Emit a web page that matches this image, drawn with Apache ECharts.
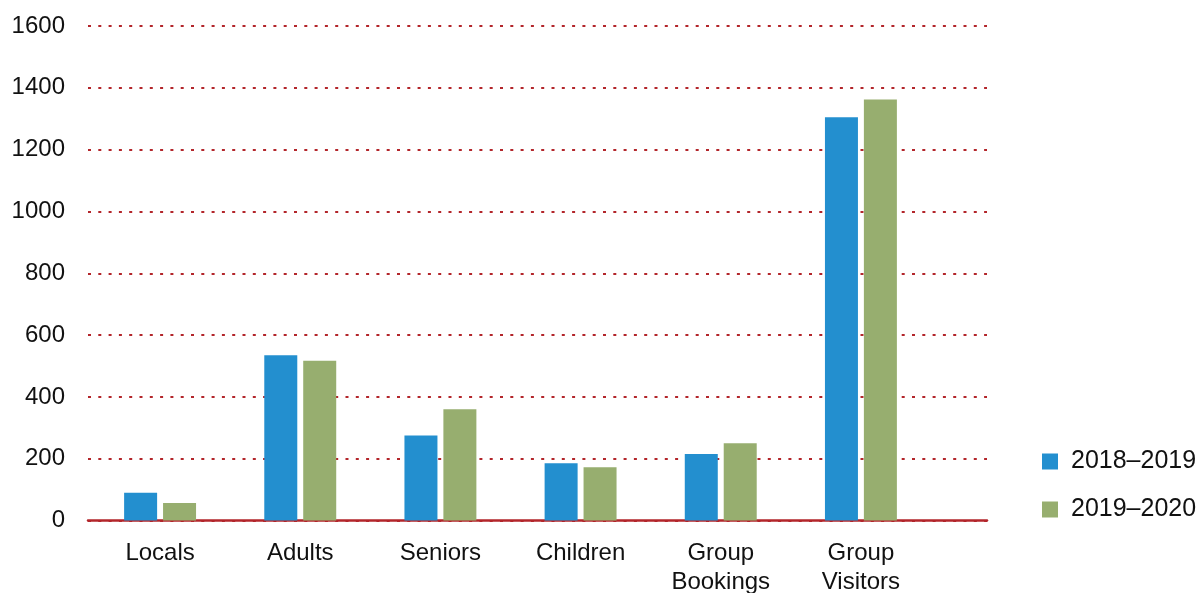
<!DOCTYPE html>
<html><head><meta charset="utf-8">
<script src="https://cdn.jsdelivr.net/npm/echarts@6/dist/echarts.min.js"></script>
<style>html,body{margin:0;padding:0;background:#fff}#c{width:1200px;height:593px}</style>
</head><body><div id="c"></div>
<script>
const categories = ['Locals', 'Adults', 'Seniors', 'Children', 'Group\nBookings', 'Group\nVisitors'];
const series2018 = [90, 535, 275, 185, 215, 1305];
const series2019 = [57, 517, 360, 172, 250, 1362];
const seriesNames = ['2018–2019', '2019–2020'];
const yTicks = { min: 0, max: 1600, interval: 200 };

const FONT = 'Liberation Sans';
const RED = '#b3262b';
const chart = echarts.init(document.getElementById('c'));
chart.setOption({
  animation: false,
  textStyle: { fontFamily: FONT },
  grid: [
    { left: 90, right: 269, top: 26, bottom: 72.5, outerBoundsMode: 'none', containLabel: false },
    { left: 88, right: 213, top: 26, bottom: 72.5, outerBoundsMode: 'none', containLabel: false }
  ],
  legend: {
    orient: 'vertical', left: 1037, top: 444,
    itemWidth: 16, itemHeight: 16, itemGap: 23,
    icon: 'rect',
    textStyle: { fontSize: 25, color: '#111', fontFamily: FONT, padding: [0, 0, 0, 8] },
    data: seriesNames
  },
  xAxis: [
    { gridIndex: 0, type: 'category', data: categories,
      axisLine: { show: false }, axisTick: { show: false },
      axisLabel: { fontSize: 24, color: '#111', margin: 18, lineHeight: 29, fontFamily: FONT } },
    { gridIndex: 1, type: 'value', min: 0, max: 1, show: true,
      axisLine: { show: true, onZero: false, lineStyle: { color: RED, width: 2.5 } },
      axisTick: { show: false }, axisLabel: { show: false }, splitLine: { show: false } }
  ],
  yAxis: [
    { gridIndex: 0, type: 'value', min: yTicks.min, max: yTicks.max, interval: yTicks.interval, show: false, splitLine: { show: false } },
    { gridIndex: 1, type: 'value', min: yTicks.min, max: yTicks.max, interval: yTicks.interval,
      axisLine: { show: false }, axisTick: { show: false },
      axisLabel: { fontSize: 24, color: '#111', margin: 23, fontFamily: FONT, formatter: v => String(v) },
      splitLine: { show: true, lineStyle: { color: RED, width: 2.2, type: [3, 7.3] } } }
  ],
  series: [
    { name: seriesNames[0], type: 'bar', xAxisIndex: 0, yAxisIndex: 0, data: series2018,
      barWidth: 33, barGap: '18%', itemStyle: { color: '#238fcf' } },
    { name: seriesNames[1], type: 'bar', xAxisIndex: 0, yAxisIndex: 0, data: series2019,
      barWidth: 33, barGap: '18%', itemStyle: { color: '#97ae6f' } }
  ]
});
</script></body></html>
